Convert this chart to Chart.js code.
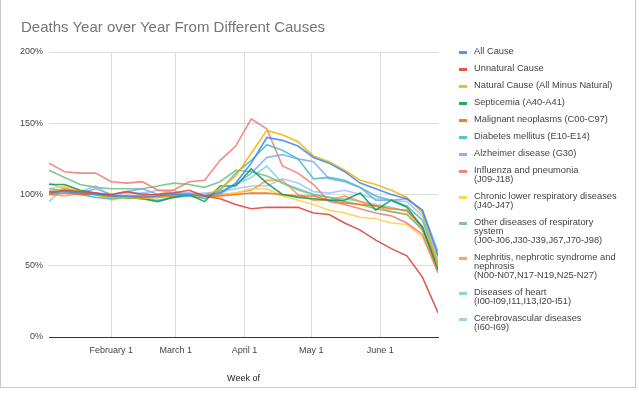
<!DOCTYPE html>
<html>
<head>
<meta charset="utf-8">
<script src="https://cdn.jsdelivr.net/npm/chart.js@4"></script>
<style>
  html, body { margin: 0; padding: 0; background: #fff; }
  #wrap { position: relative; width: 639px; height: 394px; overflow: hidden; font-family: "Liberation Sans", Arial, sans-serif; }
  #frame { position: absolute; left: 0; top: -1px; width: 634px; height: 388px; border-left: 1px solid #c8c8c8; border-right: 1px solid #c8c8c8; border-bottom: 1px solid #c8c8c8; }
  #title { position: absolute; left: 21px; top: 18px; font-size: 15px; line-height: 17px; color: #757575; white-space: nowrap; }
  #legend { position: absolute; left: 459px; top: 47px; }
  .item { position: relative; margin-bottom: 8px; }
  .sw { position: absolute; left: 0; top: 4px; width: 8px; height: 3px; opacity: 0.9; }
  .txt { margin-left: 15px; font-size: 9.3px; line-height: 9px; color: #444; white-space: pre; }
  canvas { position: absolute; left: 0; top: 0; }
</style>
</head>
<body>
<div id="wrap">
  <canvas id="c" width="639" height="394"></canvas>
  <div id="frame"></div>
  <div id="title">Deaths Year over Year From Different Causes</div>
  <div id="legend"></div>
</div>
<script>
// week-ending dates (2020)
const weeks = ['2020-01-04','2020-01-11','2020-01-18','2020-01-25','2020-02-01','2020-02-08','2020-02-15','2020-02-22',
  '2020-02-29','2020-03-07','2020-03-14','2020-03-21','2020-03-28','2020-04-04','2020-04-11','2020-04-18',
  '2020-04-25','2020-05-02','2020-05-09','2020-05-16','2020-05-23','2020-05-30','2020-06-06','2020-06-13',
  '2020-06-20','2020-06-27'];

const tickDates = ['2020-02-01', '2020-03-01', '2020-04-01', '2020-05-01', '2020-06-01'];
const tickLabels = ['February 1', 'March 1', 'April 1', 'May 1', 'June 1'];
const yTicks = [0, 50, 100, 150, 200];

const names = [
  'All Cause',
  'Unnatural Cause',
  'Natural Cause (All Minus Natural)',
  'Septicemia (A40-A41)',
  'Malignant neoplasms (C00-C97)',
  'Diabetes mellitus (E10-E14)',
  'Alzheimer disease (G30)',
  'Influenza and pneumonia\n(J09-J18)',
  'Chronic lower respiratory diseases\n(J40-J47)',
  'Other diseases of respiratory\nsystem\n(J00-J06,J30-J39,J67,J70-J98)',
  'Nephritis, nephrotic syndrome and\nnephrosis\n(N00-N07,N17-N19,N25-N27)',
  'Diseases of heart\n(I00-I09,I11,I13,I20-I51)',
  'Cerebrovascular diseases\n(I60-I69)'
];

const colors = ['#4285f4', '#db4437', '#f4b400', '#0f9d58', '#ff6d01', '#46bdc6', '#7baaf7',
  '#f07b72', '#fcd04f', '#71c287', '#ff994d', '#7ed1d7', '#a1c2fa'];

// percent of same week previous year
const allCause    = [102, 102, 101, 100, 99, 99, 98, 99, 100, 100, 99, 101, 108, 122, 140, 138, 134, 126, 122, 116, 108, 104, 100, 97, 89, 57];
const unnatural   = [101, 103, 102, 101, 100, 102, 100, 100, 101, 103, 99, 97, 93, 90, 91, 91, 91, 87, 86, 80, 75, 68, 62, 57, 42, 17];
const natural     = [102, 104, 102, 100, 98, 98, 97, 98, 100, 100, 99, 104, 113, 129, 145, 142, 137, 127, 123, 117, 110, 107, 103, 98, 87, 50];
const septicemia  = [107, 107, 103, 101, 99, 98, 97, 95, 98, 100, 95, 106, 106, 118, 108, 100, 98, 97, 96, 96, 101, 89, 96, 91, 77, 47];
const malignant   = [100, 101, 100, 100, 99, 99, 99, 98, 99, 100, 99, 99, 100, 101, 101, 100, 99, 99, 96, 94, 93, 92, 90, 89, 77, 50];
const diabetes    = [100, 103, 100, 98, 97, 98, 97, 96, 98, 99, 97, 103, 115, 124, 135, 131, 125, 111, 112, 110, 105, 99, 96, 92, 82, 52];
const alzheimer   = [104, 103, 101, 104, 100, 102, 104, 100, 101, 101, 100, 102, 107, 115, 126, 128, 125, 123, 111, 109, 105, 96, 96, 97, 89, 60];
const influenza   = [122, 116, 115, 115, 109, 108, 109, 103, 103, 109, 110, 124, 134, 153, 146, 120, 115, 107, 95, 93, 90, 87, 85, 80, 72, 45];
const chronic     = [104, 106, 102, 100, 96, 98, 99, 100, 98, 100, 98, 99, 101, 104, 104, 99, 96, 93, 89, 87, 84, 83, 80, 79, 70, 46];
const otherResp   = [117, 112, 107, 105, 104, 104, 104, 106, 108, 107, 105, 109, 117, 116, 113, 108, 104, 100, 98, 95, 93, 90, 88, 86, 75, 48];
const nephritis   = [100, 99, 101, 100, 97, 98, 99, 100, 103, 99, 98, 100, 101, 103, 110, 110, 100, 96, 96, 99, 95, 92, 88, 86, 76, 48];
const heart       = [95, 105, 101, 100, 99, 97, 101, 99, 99, 99, 98, 100, 107, 112, 120, 108, 103, 100, 98, 97, 95, 93, 91, 88, 78, 50];
const cerebro     = [108, 104, 102, 106, 99, 101, 101, 103, 101, 100, 101, 102, 104, 106, 106, 111, 108, 102, 101, 103, 100, 97, 96, 95, 85, 55];

const series = [allCause, unnatural, natural, septicemia, malignant, diabetes, alzheimer,
  influenza, chronic, otherResp, nephritis, heart, cerebro];

const dayOf = s => (Date.parse(s) - Date.parse('2020-01-01')) / 864e5;
const xs = weeks.map(dayOf);

// slightly softened line colour, like the antialiased original
function soft(hex, a) {
  const n = parseInt(hex.slice(1), 16);
  return `rgba(${n >> 16},${(n >> 8) & 255},${n & 255},${a})`;
}

// legend (html, wraps like the original)
const legend = document.getElementById('legend');
names.forEach((n, i) => {
  const item = document.createElement('div');
  item.className = 'item';
  item.innerHTML = `<div class="sw" style="background:${colors[i]}"></div><div class="txt"></div>`;
  item.querySelector('.txt').textContent = n;
  legend.appendChild(item);
});

const datasets = series.map((vals, i) => ({
  label: names[i].replace(/\n/g, ' '),
  data: vals.map((v, j) => ({ x: xs[j], y: v })),
  borderColor: soft(colors[i], 0.88),
  backgroundColor: colors[i],
  borderWidth: 1.6,
  pointRadius: 0,
  tension: 0,
  order: i
}));

new Chart(document.getElementById('c'), {
  type: 'line',
  data: { datasets },
  options: {
    responsive: false,
    animation: false,
    layout: { padding: { top: 52, right: 201, bottom: 6, left: 0 } },
    plugins: { legend: { display: false }, tooltip: { enabled: false } },
    scales: {
      x: {
        type: 'linear',
        min: xs[0],
        max: xs[xs.length - 1],
        afterBuildTicks: s => { s.ticks = tickDates.map(d => ({ value: dayOf(d) })); },
        afterFit: s => { s.height = 51; },
        ticks: {
          callback: (v, i) => tickLabels[i],
          color: '#444',
          font: { family: 'Liberation Sans', size: 9 },
          padding: 8,
          maxRotation: 0,
          autoSkip: false
        },
        grid: { color: '#dcdcdc', drawTicks: false },
        border: { display: true, color: '#333', width: 1 },
        title: {
          display: true,
          text: 'Week of',
          color: '#222',
          font: { family: 'Liberation Sans', size: 9 },
          padding: { top: 0, bottom: 4 }
        }
      },
      y: {
        min: 0,
        max: 200,
        afterBuildTicks: s => { s.ticks = yTicks.map(v => ({ value: v })); },
        afterFit: s => { s.width = 49; },
        ticks: {
          callback: v => v + '%',
          color: '#444',
          font: { family: 'Liberation Sans', size: 9 },
          padding: 6
        },
        grid: {
          color: c => c.tick && c.tick.value === 0 ? '#333' : '#dcdcdc',
          drawTicks: false
        },
        border: { display: false }
      }
    }
  }
});
</script>
</body>
</html>
